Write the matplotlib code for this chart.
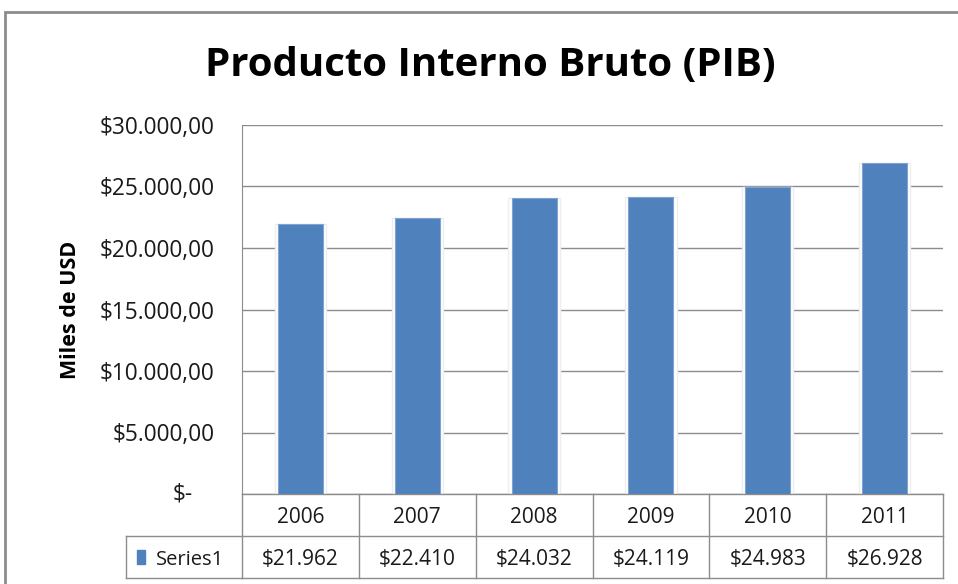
import matplotlib.pyplot as plt
from matplotlib.patches import Rectangle
from matplotlib.transforms import blended_transform_factory

# --- Data ---
years = ["2006", "2007", "2008", "2009", "2010", "2011"]
pib = [21962, 22410, 24032, 24119, 24983, 26928]
pib_labels = ["$21.962", "$22.410", "$24.032", "$24.119", "$24.983", "$26.928"]
yticks = [0, 5000, 10000, 15000, 20000, 25000, 30000]
ytick_labels = ["", "$5.000,00", "$10.000,00", "$15.000,00", "$20.000,00", "$25.000,00", "$30.000,00"]

plt.rcParams["font.family"] = ["Open Sans", "DejaVu Sans"]

W, H = 958, 584
fig = plt.figure(figsize=(W / 100, H / 100), dpi=100)

# outer chart border (cut by the image edges)
fig.patches.append(Rectangle((5 / W, -0.1), 1.2, 1 - 12 / H + 0.1, transform=fig.transFigure,
                             fill=False, ec="#8c8c8c", lw=2))

ax = fig.add_axes([242 / W, (H - 494) / H, 701 / W, (494 - 125) / H])
x = range(len(years))
# soft white glow behind bars, then the bars
ax.bar(x, pib, width=0.44, color="white", ec="#eeeeee", lw=1, zorder=2)
ax.bar(x, pib, width=0.385, color="#4F81BD", ec="#7fa3d3", lw=0.8, zorder=3)

ax.set_xlim(-0.5, len(years) - 0.5)
ax.set_ylim(0, 30000)
ax.set_yticks(yticks)
ax.set_yticklabels(ytick_labels, fontsize=16.3, color="#1a1a1a")
ax.tick_params(axis="y", length=0, pad=20)
ax.set_xticks([])
ax.grid(axis="y", color="#8c8c8c", lw=1, zorder=0)
for s in ["top", "right", "bottom"]:
    ax.spines[s].set_visible(False)
ax.spines["left"].set_color("#8c8c8c")

# zero label, accounting style
ax.text(193 / W, (H - 494) / H, "$-", transform=fig.transFigure, fontsize=16.3,
        ha="right", va="center", color="#1a1a1a")

ax.set_ylabel("Miles de USD", fontsize=15.5, fontweight="bold", labelpad=13)
fig.text(490 / W, 1 - 66 / H, "Producto Interno Bruto (PIB)", fontsize=29,
         fontweight="bold", ha="center", va="center")

# --- data table below the axis ---
tr = blended_transform_factory(ax.transData, ax.transAxes)
row_h = 42 / (494 - 125)
line = dict(color="#8c8c8c", lw=1, clip_on=False, transform=tr)
n = len(years)
ax.plot([-0.5, n - 0.5], [0, 0], **line)
ax.plot([-0.5, n - 0.5], [-row_h, -row_h], **line)
ax.plot([-0.5, n - 0.5], [-2 * row_h, -2 * row_h], **line)
for i in range(n + 1):
    ax.plot([i - 0.5, i - 0.5], [0, -2 * row_h], **line)
# legend cell
leg_left = -0.5 - (242 - 126) / (701 / n)
ax.plot([leg_left, -0.5], [-row_h, -row_h], **line)
ax.plot([leg_left, -0.5], [-2 * row_h, -2 * row_h], **line)
ax.plot([leg_left, leg_left], [-row_h, -2 * row_h], **line)

dy = 0.008
for i, (yr, lab) in enumerate(zip(years, pib_labels)):
    ax.text(i, -0.5 * row_h - dy, yr, transform=tr, ha="center", va="center", fontsize=15, color="#1a1a1a")
    ax.text(i, -1.5 * row_h - dy, lab, transform=tr, ha="center", va="center", fontsize=15, color="#1a1a1a")

ax.add_patch(Rectangle((leg_left + 0.09, -1.5 * row_h - 0.018), 0.075, 0.036, transform=tr,
                       color="#4F81BD", clip_on=False))
ax.text(leg_left + 0.255, -1.5 * row_h - dy, "Series1", transform=tr, ha="left", va="center",
        fontsize=14.5, color="#1a1a1a")

fig.savefig("out.png", dpi=100)
